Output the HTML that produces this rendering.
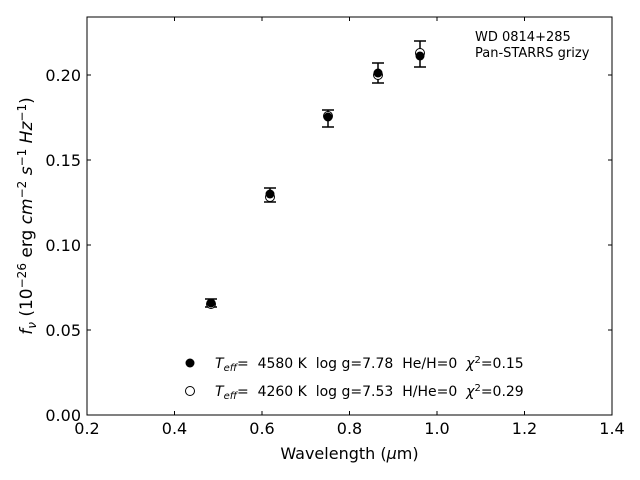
<!DOCTYPE html>
<html><head><style>body{margin:0;background:#fff}svg{display:block}text{font-family:"DejaVu Sans","Liberation Sans",sans-serif;white-space:pre}</style></head><body>
<svg width="640" height="480" viewBox="0 0 640 480">
<rect x="87" y="17" width="525" height="398" fill="none" stroke="#000" stroke-width="1"/>
<g stroke="#000" stroke-width="1">
<line x1="87" y1="415" x2="87" y2="411"/><line x1="174.5" y1="415" x2="174.5" y2="411"/><line x1="262" y1="415" x2="262" y2="411"/><line x1="349.5" y1="415" x2="349.5" y2="411"/><line x1="437" y1="415" x2="437" y2="411"/><line x1="524.5" y1="415" x2="524.5" y2="411"/>
<line x1="174.5" y1="17" x2="174.5" y2="21"/><line x1="262" y1="17" x2="262" y2="21"/><line x1="349.5" y1="17" x2="349.5" y2="21"/><line x1="437" y1="17" x2="437" y2="21"/><line x1="524.5" y1="17" x2="524.5" y2="21"/>
<line x1="87" y1="330" x2="91" y2="330"/><line x1="87" y1="245" x2="91" y2="245"/><line x1="87" y1="160" x2="91" y2="160"/><line x1="87" y1="75" x2="91" y2="75"/>
<line x1="612" y1="330" x2="608" y2="330"/><line x1="612" y1="245" x2="608" y2="245"/><line x1="612" y1="160" x2="608" y2="160"/><line x1="612" y1="75" x2="608" y2="75"/>
</g>
<g font-size="16" text-anchor="middle">
<text x="87" y="434">0.2</text><text x="174.5" y="434">0.4</text><text x="262" y="434">0.6</text><text x="349.5" y="434">0.8</text><text x="437" y="434">1.0</text><text x="524.5" y="434">1.2</text><text x="612" y="434">1.4</text>
</g>
<g font-size="16" text-anchor="end">
<text x="81" y="421">0.00</text><text x="81" y="336">0.05</text><text x="81" y="251">0.10</text><text x="81" y="166">0.15</text><text x="81" y="81">0.20</text>
</g>
<text x="349.5" y="459" font-size="16" text-anchor="middle">Wavelength (<tspan font-style="italic">μ</tspan>m)</text>
<text transform="translate(32,216) rotate(-90)" font-size="17" text-anchor="middle"><tspan font-style="italic">f</tspan><tspan font-style="italic" font-size="12" dy="4">ν</tspan><tspan dy="-4"> (10</tspan><tspan font-size="12" dy="-6">−26</tspan><tspan dy="6"> erg </tspan><tspan font-style="italic">cm</tspan><tspan font-size="12" dy="-6">−2</tspan><tspan dy="6" font-style="italic"> s</tspan><tspan font-size="12" dy="-6">−1</tspan><tspan dy="6" font-style="italic"> Hz</tspan><tspan font-size="12" dy="-6">−1</tspan><tspan dy="6">)</tspan></text>
<text x="475" y="41" font-size="13">WD 0814+285</text>
<text x="475" y="57" font-size="13">Pan-STARRS grizy</text>
<g stroke="#000" stroke-width="1.5">
<line x1="211" y1="299" x2="211" y2="307"/><line x1="205" y1="299" x2="217" y2="299"/><line x1="205" y1="307" x2="217" y2="307"/>
<line x1="270" y1="188" x2="270" y2="202"/><line x1="264" y1="188" x2="276" y2="188"/><line x1="264" y1="202" x2="276" y2="202"/>
<line x1="328" y1="110" x2="328" y2="127"/><line x1="322" y1="110" x2="334" y2="110"/><line x1="322" y1="127" x2="334" y2="127"/>
<line x1="378" y1="63" x2="378" y2="83"/><line x1="372" y1="63" x2="384" y2="63"/><line x1="372" y1="83" x2="384" y2="83"/>
<line x1="420" y1="41" x2="420" y2="67"/><line x1="414" y1="41" x2="426" y2="41"/><line x1="414" y1="67" x2="426" y2="67"/>
</g>
<g fill="#fff" stroke="#000" stroke-width="1">
<circle cx="211" cy="304" r="4.5"/><circle cx="270" cy="197" r="4.5"/><circle cx="328" cy="116" r="4.5"/><circle cx="378" cy="75" r="4.5"/><circle cx="420" cy="53" r="4.5"/>
</g>
<g fill="#000">
<circle cx="211" cy="303" r="4.5"/><circle cx="270" cy="194" r="4.5"/><circle cx="328" cy="117" r="4.5"/><circle cx="378" cy="73" r="4.5"/><circle cx="420" cy="56" r="4.5"/>
</g>
<circle cx="190" cy="363" r="4.5" fill="#000"/>
<circle cx="190" cy="391" r="4.5" fill="#fff" stroke="#000"/>
<g font-size="14">
<text x="215" y="368"><tspan font-style="italic">T</tspan><tspan font-style="italic" font-size="10" dy="3">eff</tspan><tspan dy="-3">=  4580 K  log g=7.78  He/H=0  </tspan><tspan font-style="italic">χ</tspan><tspan font-size="10" dy="-5">2</tspan><tspan dy="5">=0.15</tspan></text>
<text x="215" y="396"><tspan font-style="italic">T</tspan><tspan font-style="italic" font-size="10" dy="3">eff</tspan><tspan dy="-3">=  4260 K  log g=7.53  H/He=0  </tspan><tspan font-style="italic">χ</tspan><tspan font-size="10" dy="-5">2</tspan><tspan dy="5">=0.29</tspan></text>
</g>
</svg>
</body></html>
